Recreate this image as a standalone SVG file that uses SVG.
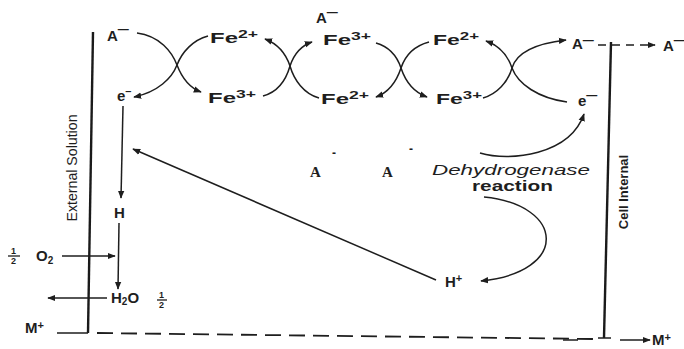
<svg xmlns="http://www.w3.org/2000/svg" width="684" height="349" viewBox="0 0 684 349">
<defs>
<marker id="ah" viewBox="0 0 10 10" refX="9" refY="5" markerWidth="8" markerHeight="8" markerUnits="userSpaceOnUse" orient="auto"><path d="M0,1 L10,5 L0,9 Z" fill="#1e1e1e"/></marker>
<style>
.ln{stroke:#1e1e1e;stroke-width:1.5;fill:none}
.wall{stroke:#1a1a1a;stroke-width:2.4;fill:none}
.dash{stroke:#1e1e1e;stroke-width:1.8;fill:none;stroke-dasharray:16 8}
.lb{font-family:"Liberation Sans",Arial,sans-serif;font-weight:bold;font-size:15px;fill:#1e1e1e}
.rg{font-family:"Liberation Sans",Arial,sans-serif;font-size:14px;fill:#1e1e1e}
.sf{font-family:"Liberation Serif","Times New Roman",serif;font-weight:bold;font-size:15px;fill:#1e1e1e}
.sup{font-size:11px}
.fr{font-family:"Liberation Sans",Arial,sans-serif;font-weight:bold;font-size:9px;fill:#1e1e1e}
</style>
</defs>
<rect width="684" height="349" fill="#ffffff"/>

<g id="connectors">
  <path class="wall" d="M93,32 L88,333"/>
  <path class="wall" d="M611,42 L604,338"/>
  <path class="ln" d="M598,338 L611,338"/>
  <path class="ln" d="M57,333 L88,333"/>
  <path class="dash" d="M97,333 L594,339"/>
  <path class="ln" d="M563,340 L578,340"/>
  <path class="ln" d="M620,340 L650,340" marker-end="url(#ah)"/>
  <path class="ln" d="M598,45 L655,45" stroke-dasharray="8 6" marker-end="url(#ah)"/>
  <path class="ln" d="M137,33 C160,36 172,52 177,65 C182,78 190,88 201,92" marker-end="url(#ah)"/>
  <path class="ln" d="M208,36 C193,40 182,52 177,65 C172,78 158,92 134,97" marker-end="url(#ah)"/>
  <path class="ln" d="M263,96 C278,92 286,80 290,66 C294,54 300,46 312,42" marker-end="url(#ah)"/>
  <path class="ln" d="M319,98 C304,94 294,80 290,66 C286,54 278,44 265,39" marker-end="url(#ah)"/>
  <path class="ln" d="M376,43 C390,47 397,56 401,68 C405,80 413,92 427,97" marker-end="url(#ah)"/>
  <path class="ln" d="M429,42 C414,46 405,56 401,68 C397,80 390,92 376,97" marker-end="url(#ah)"/>
  <path class="ln" d="M483,98 C497,94 508,82 512,68 C516,54 532,44 566,40" marker-end="url(#ah)"/>
  <path class="ln" d="M567,102 C538,98 518,84 512,68 C508,56 500,46 486,41" marker-end="url(#ah)"/>
  <path class="ln" d="M123,106 L121,198" marker-end="url(#ah)"/>
  <path class="ln" d="M119,223 L118,289" marker-end="url(#ah)"/>
  <path class="ln" d="M62,256 L115,256" marker-end="url(#ah)"/>
  <path class="ln" d="M107,298 L48,298" marker-end="url(#ah)"/>
  <path class="ln" d="M436,280 L133,149" marker-end="url(#ah)"/>
  <path class="ln" d="M480,153 C510,162 570,155 584,114" marker-end="url(#ah)"/>
  <path class="ln" d="M484,197 C565,205 570,272 481,281" marker-end="url(#ah)"/>
</g>

<g id="n-A-left"><text class="lb" x="107" y="41">A<tspan class="sup" dy="-8">—</tspan></text></g>
<g id="n-A-top"><text class="lb" x="316" y="23">A<tspan class="sup" dy="-7">—</tspan></text></g>
<g id="n-A-right"><text class="lb" x="572" y="49">A<tspan class="sup" dy="-5">—</tspan></text></g>
<g id="n-A-out"><text class="lb" x="663" y="51">A<tspan class="sup" dy="-7">—</tspan></text></g>

<g id="n-fe-top1"><text class="lb" x="210" y="43" textLength="48" lengthAdjust="spacingAndGlyphs">Fe<tspan class="sup" dy="-5">2+</tspan></text></g>
<g id="n-fe-top2"><text class="lb" x="323" y="45" textLength="48" lengthAdjust="spacingAndGlyphs">Fe<tspan class="sup" dy="-5">3+</tspan></text></g>
<g id="n-fe-top3"><text class="lb" x="433" y="45" textLength="46" lengthAdjust="spacingAndGlyphs">Fe<tspan class="sup" dy="-5">2+</tspan></text></g>
<g id="n-fe-bot1"><text class="lb" x="208" y="103" textLength="48" lengthAdjust="spacingAndGlyphs">Fe<tspan class="sup" dy="-5">3+</tspan></text></g>
<g id="n-fe-bot2"><text class="lb" x="321" y="104" textLength="48" lengthAdjust="spacingAndGlyphs">Fe<tspan class="sup" dy="-5">2+</tspan></text></g>
<g id="n-fe-bot3"><text class="lb" x="436" y="104" textLength="46" lengthAdjust="spacingAndGlyphs">Fe<tspan class="sup" dy="-5">3+</tspan></text></g>

<g id="n-e-left"><text class="lb" x="117" y="101">e<tspan class="sup" dy="-6">–</tspan></text></g>
<g id="n-e-right"><text class="lb" x="578" y="106">e<tspan class="sup" dy="-7">—</tspan></text></g>

<g id="n-H"><text class="lb" x="114" y="218">H</text></g>
<g id="n-O2">
  <text class="fr" x="11" y="254">1</text>
  <line x1="8" y1="256" x2="20" y2="256" stroke="#1e1e1e" stroke-width="1.3"/>
  <text class="fr" x="11" y="264">2</text>
  <text class="lb" x="36" y="261">O<tspan font-size="10px" dy="3">2</tspan></text>
</g>
<g id="n-H2O">
  <text class="lb" x="111" y="303">H<tspan font-size="10px" dy="2">2</tspan><tspan dy="-2">O</tspan></text>
  <text class="fr" x="159" y="298">1</text>
  <line x1="157" y1="300" x2="167" y2="300" stroke="#1e1e1e" stroke-width="1.3"/>
  <text class="fr" x="159" y="308">2</text>
</g>
<g id="n-M-left"><text class="lb" x="25" y="333">M<tspan class="sup" dy="-4">+</tspan></text></g>
<g id="n-M-right"><text class="lb" x="652" y="345">M<tspan class="sup" dy="-4">+</tspan></text></g>

<g id="n-ext"><text class="rg" transform="translate(77,168) rotate(-90)" text-anchor="middle" textLength="107" lengthAdjust="spacingAndGlyphs">External Solution</text></g>
<g id="n-cell"><text class="lb" style="font-size:13px" transform="translate(628,192) rotate(-90)" text-anchor="middle">Cell Internal</text></g>

<g id="n-A1"><text class="sf" x="310" y="177">A</text><text class="lb" x="332" y="157" style="font-size:12px">-</text></g>
<g id="n-A2"><text class="sf" x="382" y="177">A</text><text class="lb" x="409" y="153" style="font-size:12px">-</text></g>

<g id="n-dehyd">
  <text class="rg" font-style="italic" x="432" y="175" style="font-size:15px" textLength="158" lengthAdjust="spacingAndGlyphs">Dehydrogenase</text>
  <text class="lb" x="472" y="191" textLength="81" lengthAdjust="spacingAndGlyphs">reaction</text>
</g>
<g id="n-Hplus"><text class="lb" x="445" y="287">H<tspan class="sup" dy="-5">+</tspan></text></g>
</svg>
